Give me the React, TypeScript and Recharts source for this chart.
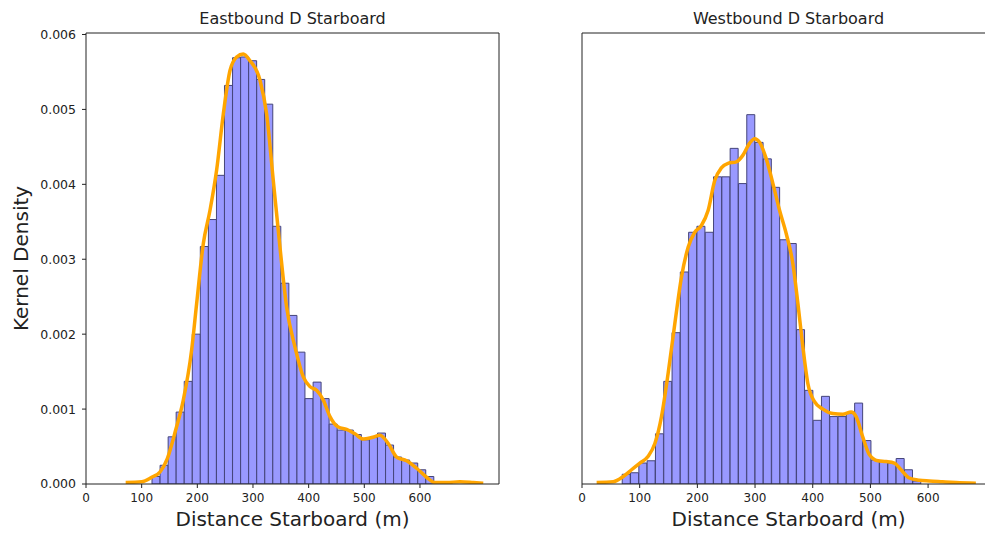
import React from "react";
import { ComposedChart, Bar, Line, XAxis, YAxis } from "recharts";

// histogram bin centres (m) and densities
const eastBins = [125.8, 140.3, 154.8, 169.2, 183.7, 198.2, 212.6, 227.1, 241.6, 256.0, 270.5, 285.0, 299.4, 313.9, 328.4, 342.8, 357.3, 371.8, 386.2, 400.7, 415.2, 429.6, 444.1, 458.6, 473.0, 487.5, 502.0, 516.4, 530.9, 545.4, 559.8, 574.3, 588.8, 603.2, 617.7];
const eastDensity = [0.0001, 0.00025, 0.00063, 0.00096, 0.00137, 0.002, 0.00317, 0.00353, 0.00412, 0.00532, 0.00569, 0.0057, 0.00565, 0.0054, 0.00507, 0.00344, 0.00268, 0.00225, 0.00176, 0.00114, 0.00136, 0.00114, 0.0008, 0.00072, 0.00072, 0.00066, 0.00059, 0.00062, 0.00068, 0.00052, 0.00036, 0.00032, 0.00028, 0.00019, 0.0001];

const westBins = [76.9, 91.3, 105.7, 120.1, 134.5, 148.9, 163.3, 177.6, 192.0, 206.4, 220.8, 235.2, 249.6, 264.0, 278.4, 292.8, 307.2, 321.5, 335.9, 350.3, 364.7, 379.1, 393.5, 407.9, 422.3, 436.7, 451.1, 465.4, 479.8, 494.2, 508.6, 523.0, 537.4, 551.8, 566.2, 580.6];
const westDensity = [0.00013, 0.00015, 0.00028, 0.00031, 0.00067, 0.00137, 0.00202, 0.00283, 0.00336, 0.00344, 0.00336, 0.0041, 0.0041, 0.00448, 0.00401, 0.00493, 0.00456, 0.00434, 0.00396, 0.00326, 0.00321, 0.00206, 0.00125, 0.00085, 0.00117, 0.0009, 0.0009, 0.00094, 0.00108, 0.00058, 0.00032, 0.0003, 0.00028, 0.00034, 0.00019, 0.00004];

// kernel density curves
const eastKdeX = [71.3, 100, 118, 132.9, 146.1, 161.1, 174.8, 189.8, 198.8, 210.8, 222.7, 234.7, 246.7, 258.7, 270.6, 282.6, 294.6, 312.6, 324.5, 336.5, 348.5, 360.5, 375.4, 390.4, 402.4, 414.3, 426.3, 438.3, 453.3, 468.2, 483.2, 498.2, 513.2, 528.1, 543.1, 558.1, 576, 594, 611.9, 626.9, 647.9, 671.8, 695.8, 713.7];
const eastKdeY = [0.00002, 0.00003, 0.00009, 0.00016, 0.00034, 0.00072, 0.00112, 0.00179, 0.00241, 0.00321, 0.00365, 0.00419, 0.00494, 0.00552, 0.0057, 0.00574, 0.00565, 0.00539, 0.00494, 0.00405, 0.00316, 0.00236, 0.00183, 0.00143, 0.0013, 0.00125, 0.00112, 0.0009, 0.00076, 0.00073, 0.00067, 0.0006, 0.00062, 0.00065, 0.00054, 0.00036, 0.00031, 0.00021, 0.00009, 0.00002, 0.00002, 0.00003, 0.00002, 0.00001];

const westKdeX = [25.4, 54.2, 71.5, 85.9, 100.3, 114.8, 126.3, 137.8, 149.4, 160.9, 172.4, 184, 195.5, 207, 218.6, 230.1, 241.6, 253.2, 267.6, 279.1, 290.7, 299.3, 308, 319.5, 331, 342.6, 354.1, 365.6, 374.3, 382.9, 391.6, 403.1, 417.5, 434.8, 452.1, 466.6, 475.2, 486.7, 498.3, 512.7, 527.1, 541.5, 553.1, 567.5, 584.8, 602.1, 625.1, 648.2, 682.8];
const westKdeY = [0.00002, 0.00003, 0.0001, 0.00019, 0.00028, 0.00037, 0.00054, 0.0009, 0.00148, 0.00214, 0.00276, 0.00316, 0.00336, 0.00345, 0.00365, 0.00405, 0.00422, 0.00428, 0.0043, 0.00439, 0.00455, 0.00461, 0.00456, 0.00434, 0.00401, 0.00365, 0.00334, 0.00294, 0.00241, 0.00183, 0.00134, 0.0011, 0.001, 0.00094, 0.00093, 0.00096, 0.0009, 0.00063, 0.00039, 0.00031, 0.0003, 0.00028, 0.00019, 0.00008, 0.00005, 0.00004, 0.00003, 0.00002, 0.00001];

const xTicks = [0, 100, 200, 300, 400, 500, 600];
const yTicks = [0, 0.001, 0.002, 0.003, 0.004, 0.005, 0.006];

const FONT = "DejaVu Sans";
const AXIS = "#222";

type PanelProps = {
  title: string;
  bins: number[];
  density: number[];
  kdeX: number[];
  kdeY: number[];
  xMax: number;
  showYLabels: boolean;
  left: number;
};

const Panel = ({ title, bins, density, kdeX, kdeY, xMax, showYLabels, left }: PanelProps) => {
  const hist = bins.map((x, i) => ({ x, d: density[i] }));
  const kde = kdeX.map((x, i) => ({ x, k: kdeY[i] }));
  const tickStyle = { fontSize: 12, fill: AXIS, fontFamily: FONT };
  return (
    <div style={{ position: "absolute", left, top: 0, width: 520, height: 534 }}>
      <div style={{ position: "absolute", left: 86, top: 11, width: 413, textAlign: "center", fontSize: 16, lineHeight: "16px", fontFamily: FONT, color: "#222" }}>
        {title}
      </div>
      <ComposedChart width={520} height={534} data={hist} margin={{ top: 32, right: 20, left: 0, bottom: 0 }} barCategoryGap={0} barGap={0}>
        <XAxis
          xAxisId="bin"
          type="number"
          dataKey="x"
          domain={[0, xMax]}
          allowDataOverflow
          ticks={xTicks}
          height={50}
          tickSize={4}
          tickMargin={5}
          stroke={AXIS}
          tick={tickStyle}
          label={{ value: "Distance Starboard (m)", position: "insideBottom", offset: 8, style: { fontSize: 20, fill: AXIS, fontFamily: FONT } }}
        />
        <XAxis xAxisId="kde" type="number" dataKey="x" domain={[0, xMax]} allowDataOverflow hide />
        <XAxis xAxisId="top" type="number" orientation="top" domain={[0, xMax]} height={1} tick={false} tickLine={false} stroke={AXIS} />
        <YAxis
          yAxisId="y"
          type="number"
          domain={[0, 0.00602]}
          allowDataOverflow
          ticks={yTicks}
          width={86}
          tickSize={4}
          tickMargin={6}
          stroke={AXIS}
          tick={showYLabels ? { ...tickStyle, fontSize: 12.5 } : false}
          tickFormatter={(v: number) => v.toFixed(3)}
          label={showYLabels ? { value: "Kernel Density", angle: -90, position: "insideLeft", offset: 21, style: { fontSize: 20, fill: AXIS, fontFamily: FONT, textAnchor: "middle" } } : undefined}
        />
        <YAxis yAxisId="right" orientation="right" type="number" domain={[0, 0.00602]} width={1} tick={false} tickLine={false} stroke={AXIS} />
        <Bar xAxisId="bin" yAxisId="y" dataKey="d" fill="#9999ff" stroke="#45457a" strokeWidth={1} isAnimationActive={false} />
        <Line xAxisId="kde" yAxisId="y" data={kde} dataKey="k" type="monotone" stroke="#ffa500" strokeWidth={3.5} dot={false} activeDot={false} isAnimationActive={false} />
      </ComposedChart>
    </div>
  );
};

export default function App() {
  return (
    <div style={{ position: "absolute", left: 0, top: 0, width: 985, height: 534, overflow: "hidden", background: "#fff" }}>
      <Panel title="Eastbound D Starboard" bins={eastBins} density={eastDensity} kdeX={eastKdeX} kdeY={eastKdeY} xMax={742} showYLabels left={0} />
      <Panel title="Westbound D Starboard" bins={westBins} density={westDensity} kdeX={westKdeX} kdeY={westKdeY} xMax={716} showYLabels={false} left={496} />
    </div>
  );
}
